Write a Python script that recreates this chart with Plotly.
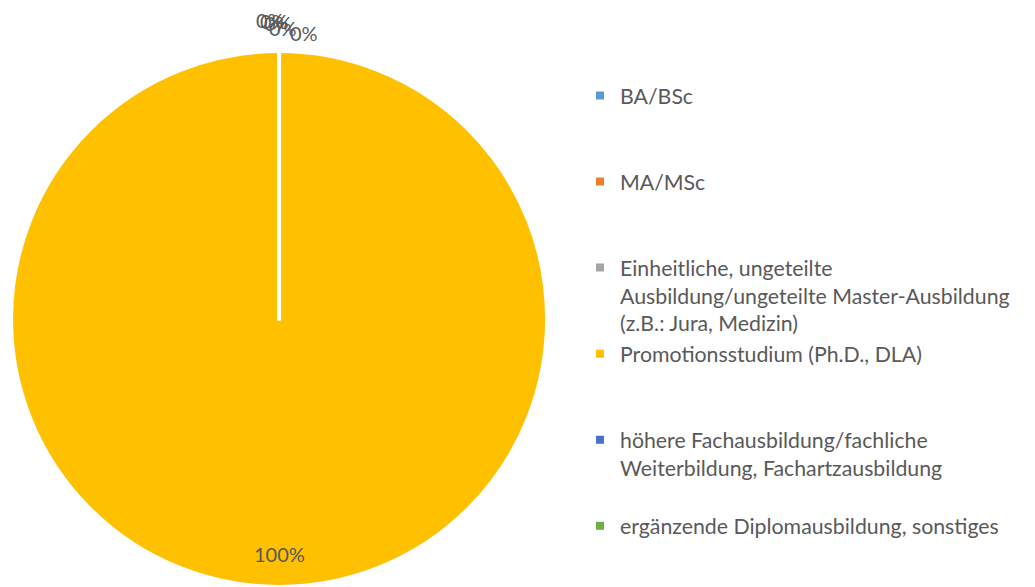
import math
import plotly.graph_objects as go

categories = [
    "BA/BSc",
    "MA/MSc",
    "Einheitliche, ungeteilte<br>Ausbildung/ungeteilte Master-Ausbildung<br>(z.B.: Jura, Medizin)",
    "Promotionsstudium (Ph.D., DLA)",
    "höhere Fachausbildung/fachliche<br>Weiterbildung, Fachartzausbildung",
    "ergänzende Diplomausbildung, sonstiges",
]
values = [0, 0, 0, 100, 0, 0]
colors = ["#5B9BD5", "#ED7D31", "#A5A5A5", "#FFC000", "#4472C4", "#70AD47"]

FONT = "Lato"
TXT = "#595959"
W, H = 1035, 587
DOM_X = [0.0097, 0.5295]
DOM_Y = [0.0, 0.913]

# legend entries each occupy a three-line slot (as in the original legend layout)
SLOT_LINES = 3
legend_labels = []
for i, c in enumerate(categories):
    pad = 0 if i == len(categories) - 1 else SLOT_LINES - c.count("<br>") - 1
    legend_labels.append(c + "<br> " * pad)

fig = go.Figure(
    go.Pie(
        labels=legend_labels,
        values=values,
        sort=False,
        direction="clockwise",
        rotation=0,
        marker=dict(colors=colors, line=dict(color="white", width=4)),
        textinfo="none",
        domain=dict(x=DOM_X, y=DOM_Y),
        hoverinfo="percent",
    )
)

# percentage labels, derived from the data
total = sum(values)
cx = (DOM_X[0] + DOM_X[1]) / 2 * W
cy_from_bottom = (DOM_Y[0] + DOM_Y[1]) / 2 * H
R = min((DOM_X[1] - DOM_X[0]) * W, (DOM_Y[1] - DOM_Y[0]) * H) / 2

# small offsets (px) for the stacked zero-slice labels above the pie top
zero_offsets = [(-9, 31), (-5, 30), (-1, 28), (4, 23), (25, 18)]
cum = 0.0
zi = 0
for v in values:
    frac = v / total
    mid = (cum + frac / 2) * 2 * math.pi  # clockwise from 12 o'clock
    cum += frac
    txt = f"{round(frac * 100)}%"
    if v > 0:
        r = 0.875 * R
        px = cx + r * math.sin(mid)
        py = cy_from_bottom + r * math.cos(mid)
    else:
        dx, dy = zero_offsets[zi % len(zero_offsets)]
        zi += 1
        px = cx + R * math.sin(mid) + dx
        py = cy_from_bottom + R * math.cos(mid) + dy
    fig.add_annotation(
        x=px / W, y=py / H, xref="paper", yref="paper",
        text=txt, showarrow=False,
        font=dict(family=FONT, size=20, color=TXT),
        xanchor="center", yanchor="middle",
    )

fig.update_layout(
    width=W,
    height=H,
    margin=dict(l=0, r=0, t=0, b=0, autoexpand=False),
    paper_bgcolor="white",
    plot_bgcolor="white",
    font=dict(family=FONT, size=21.3, color=TXT),
    legend=dict(
        x=0.5604,
        xanchor="left",
        y=0.872,
        yanchor="top",
        valign="top",
        font=dict(family=FONT, size=21.3, color=TXT),
        tracegroupgap=0,
        itemwidth=30,
    ),
)

fig.write_html(
    "out.html",
    config={"displayModeBar": False},
    post_script="document.body.style.margin='0';",
)
